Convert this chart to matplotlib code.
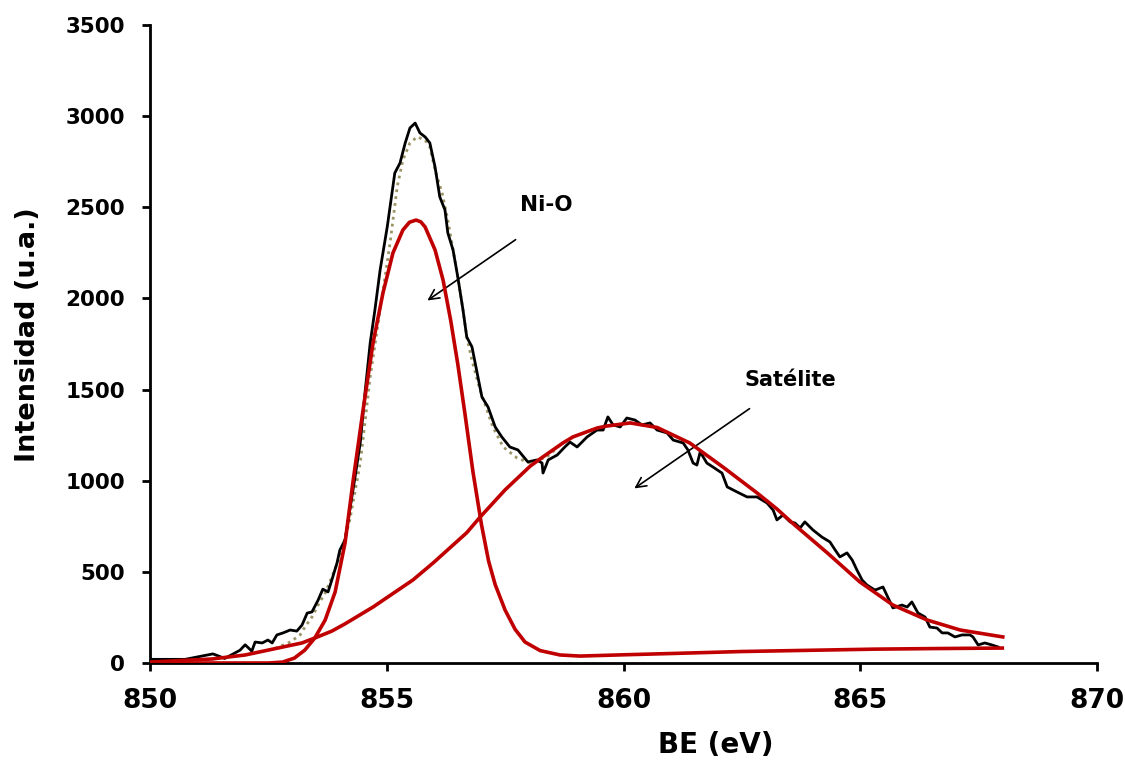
import matplotlib
matplotlib.use("Agg")
import matplotlib.pyplot as plt

# ---------------- data ----------------
# experimental spectrum (black)
exp_be = [850.00, 850.46, 850.74, 851.33, 851.58, 851.90, 852.01, 852.15, 852.22, 852.37,
          852.49, 852.58, 852.68, 852.81, 852.96, 853.10, 853.21, 853.32, 853.42, 853.55,
          853.65, 853.76, 853.84, 853.95, 854.01, 854.12, 854.22, 854.33, 854.44, 854.54,
          854.65, 854.75, 854.86, 855.01, 855.11, 855.17, 855.28, 855.39, 855.49, 855.60,
          855.70, 855.81, 855.91, 856.02, 856.12, 856.23, 856.29, 856.40, 856.50, 856.61,
          856.69, 856.80, 856.91, 857.01, 857.14, 857.29, 857.43, 857.60, 857.77, 857.98,
          858.17, 858.28, 858.30, 858.41, 858.60, 858.76, 858.87, 859.02, 859.23, 859.44,
          859.57, 859.67, 859.78, 859.93, 860.07, 860.24, 860.39, 860.56, 860.71, 860.92,
          861.05, 861.26, 861.36, 861.47, 861.55, 861.62, 861.76, 861.89, 862.08, 862.19,
          862.40, 862.61, 862.82, 863.03, 863.16, 863.24, 863.37, 863.52, 863.62, 863.73,
          863.83, 864.00, 864.19, 864.36, 864.47, 864.57, 864.72, 864.83, 864.93, 865.04,
          865.14, 865.31, 865.48, 865.59, 865.69, 865.88, 865.99, 866.09, 866.22, 866.37,
          866.47, 866.62, 866.73, 866.85, 867.00, 867.15, 867.32, 867.38, 867.49, 867.63,
          867.78, 867.91]
exp_int = [20, 20, 20, 50, 25, 70, 100, 65, 115, 110,
           126, 110, 154, 165, 181, 175, 208, 274, 280, 345,
           405, 390, 455, 549, 620, 675, 840, 1020, 1207, 1481,
           1755, 1937, 2156, 2392, 2578, 2688, 2743, 2853, 2935, 2962,
           2908, 2886, 2853, 2721, 2557, 2485, 2359, 2266, 2118, 1937,
           1788, 1734, 1591, 1459, 1404, 1295, 1240, 1185, 1169, 1103,
           1114, 1097, 1042, 1114, 1141, 1185, 1212, 1185, 1240, 1278,
           1278, 1350, 1306, 1295, 1344, 1333, 1306, 1317, 1278, 1262,
           1223, 1207, 1169, 1097, 1086, 1158, 1097, 1075, 1042, 966,
           938, 911, 911, 878, 839, 785, 812, 774, 768, 741,
           774, 730, 691, 664, 620, 582, 604, 565, 510, 455,
           428, 400, 417, 357, 302, 318, 307, 335, 274, 252,
           197, 192, 165, 165, 143, 154, 154, 143, 99, 110,
           99, 88]

# fitted envelope (dotted)
env_be = [852.64, 852.96, 853.17, 853.27, 853.42, 853.55, 853.70, 853.84, 854.01, 854.22,
          854.44, 854.65, 854.86, 855.07, 855.22, 855.34, 855.49, 855.64, 855.81, 855.91,
          856.02, 856.17, 856.29, 856.40, 856.50, 856.61, 856.69, 856.80, 856.97, 857.24,
          857.46, 857.75, 858.03, 858.38, 858.60]
env_int = [80, 115, 154, 197, 252, 318, 384, 472, 582, 785,
           1097, 1569, 1937, 2304, 2611, 2759, 2853, 2886, 2869, 2831,
           2705, 2578, 2430, 2266, 2118, 1937, 1788, 1660, 1498, 1295,
           1185, 1125, 1097, 1130, 1180]

# Ni-O component (red, including background)
nio_be = [850.00, 852.50, 852.80, 853.05, 853.27, 853.48, 853.70, 853.91, 854.12, 854.29,
          854.50, 854.71, 854.92, 855.13, 855.34, 855.48, 855.62, 855.72, 855.81, 856.02,
          856.19, 856.35, 856.50, 856.65, 856.82, 857.00, 857.15, 857.29, 857.50, 857.71,
          857.92, 858.24, 858.66, 859.08, 860.00, 861.00, 862.50, 864.00, 865.30, 866.50,
          868.00]
nio_int = [0, 0, 5, 27, 71, 137, 236, 390, 660, 1000,
           1388, 1755, 2030, 2249, 2375, 2418, 2430, 2420, 2392, 2266,
           2100, 1880, 1640, 1370, 1050, 760, 560, 430, 290, 185,
           115, 68, 44, 38, 45, 52, 63, 70, 76, 79,
           82]

# satellite component (red)
sat_be = [850.00, 851.31, 852.01, 852.70, 853.21, 853.48, 853.84, 854.12, 854.71, 855.55,
          855.98, 856.69, 856.97, 857.50, 858.03, 858.24, 858.72, 858.93, 859.44, 859.65,
          860.14, 860.71, 861.40, 862.10, 862.82, 863.24, 863.58, 864.30, 864.99, 865.69,
          866.41, 867.11, 868.01]
sat_int = [5, 22, 44, 82, 110, 137, 175, 215, 307, 455,
           549, 715, 800, 950, 1080, 1120, 1207, 1240, 1289, 1300,
           1317, 1292, 1207, 1075, 933, 845, 765, 605, 445, 318,
           236, 181, 143]

x_ticks = [850, 855, 860, 865, 870]
y_ticks = [0, 500, 1000, 1500, 2000, 2500, 3000, 3500]

# ---------------- figure ----------------
plt.rcParams['font.family'] = ['DejaVu Sans']
fig = plt.figure(figsize=(11.25, 7.62), dpi=100)
ax = fig.add_axes([150/1125, 1-663/762, (1097-150)/1125, (663-25)/762])

red = '#c00000'
ax.plot(env_be, env_int, color='#9b9466', lw=2.0, ls=(0, (1, 1.5)), zorder=2)
ax.plot(exp_be, exp_int, color='black', lw=2.0, zorder=3, solid_joinstyle='round')
ax.plot(nio_be, nio_int, color=red, lw=2.6, zorder=4, solid_joinstyle='round')
ax.plot(sat_be, sat_int, color=red, lw=2.6, zorder=4, solid_joinstyle='round')

ax.set_xlim(850, 870)
ax.set_ylim(0, 3500)
ax.set_xticks(x_ticks)
ax.set_yticks(y_ticks)
ax.set_xticklabels([str(v) for v in x_ticks], fontsize=19, fontweight='bold')
ax.set_yticklabels([str(v) for v in y_ticks], fontsize=15.5, fontweight='bold')
for s in ['top', 'right']:
    ax.spines[s].set_visible(False)
for s in ['left', 'bottom']:
    ax.spines[s].set_linewidth(2.0)
    ax.spines[s].set_color('black')
ax.tick_params(axis='both', direction='out', length=6, width=2.0, color='black')
ax.tick_params(axis='x', pad=12)
ax.tick_params(axis='y', pad=12)

ax.set_xlabel('BE (eV)', fontsize=20, fontweight='bold')
ax.xaxis.set_label_coords((716-150)/947, (663-745)/638)
ax.xaxis.label.set_va('center')
ax.set_ylabel('Intensidad (u.a.)', fontsize=19.5, fontweight='bold')
ax.yaxis.set_label_coords((28-150)/947, (663-335)/638)
ax.yaxis.label.set_va('center')

# annotations
ax.annotate('', xy=(855.81, 1980), xytext=(857.77, 2331),
            arrowprops=dict(arrowstyle='->', color='black', lw=1.2, mutation_scale=18))
ax.text(858.38, 2513, 'Ni-O', fontsize=15.5, fontweight='bold', ha='center', va='center')
ax.annotate('', xy=(860.18, 949), xytext=(862.71, 1404),
            arrowprops=dict(arrowstyle='->', color='black', lw=1.2, mutation_scale=18))
ax.text(863.52, 1553, 'Satélite', fontsize=15, fontweight='bold', ha='center', va='center')

fig.savefig('out.png', dpi=100)
